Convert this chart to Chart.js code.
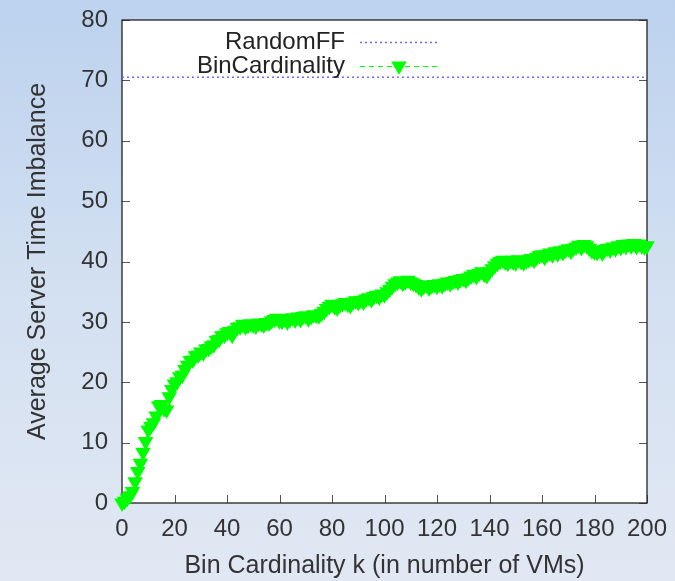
<!DOCTYPE html>
<html>
<head>
<meta charset="utf-8">
<script src="https://cdn.jsdelivr.net/npm/chart.js@4"></script>
<style>
  html, body { margin: 0; padding: 0; }
  body { width: 675px; height: 581px; background: linear-gradient(to bottom, #bcd2ee 0%, #d3e0f1 50%, #e1e8f3 100%); }
  #wrap { width: 675px; height: 581px; position: relative; }
</style>
</head>
<body>
<div id="wrap"><canvas id="c" width="675" height="581"></canvas></div>
<script>
// ---- data ----
const kValues = [];
for (let i = 0; i <= 200; i++) kValues.push(i);
const binCardinality = [
  0.0, 0.3, 0.8, 1.2, 1.9, 3.5, 5.2, 6.6, 8.4, 10.2,
  12.1, 12.7, 13.3, 14.4, 16.1, 16.3, 15.6, 15.4, 17.6, 18.8,
  19.7, 20.1, 20.9, 21.2, 22.1, 22.8, 23.6, 23.7, 24.4, 24.5,
  25.0, 24.9, 25.5, 25.6, 26.0, 26.2, 26.9, 27.1, 27.7, 27.8,
  28.2, 28.4, 27.8, 28.6, 29.1, 29.2, 29.6, 29.2, 29.4, 29.7,
  29.5, 29.3, 29.8, 29.7, 29.5, 29.9, 29.8, 30.2, 30.4, 30.6,
  30.2, 30.1, 30.5, 30.0, 30.4, 30.7, 30.3, 30.8, 30.4, 30.9,
  31.0, 30.5, 30.9, 31.2, 31.1, 31.0, 31.4, 31.7, 32.2, 32.6,
  32.9, 32.5, 32.3, 32.8, 33.0, 33.2, 32.9, 32.7, 33.3, 33.5,
  33.2, 33.6, 33.3, 33.8, 34.0, 33.7, 34.2, 34.4, 34.1, 34.6,
  34.5, 35.0, 35.4, 35.9, 36.3, 36.6, 36.8, 36.4, 36.7, 36.9,
  36.6, 36.4, 36.2, 35.8, 35.5, 35.9, 36.1, 35.6, 36.0, 36.2,
  35.9, 36.3, 36.0, 36.4, 36.6, 36.3, 36.7, 36.9, 36.6, 37.0,
  37.2, 36.9, 37.3, 37.6, 37.9, 37.5, 38.0, 38.3, 37.9, 37.7,
  38.3, 38.8, 39.3, 39.7, 40.0, 40.2, 39.9, 39.7, 40.2, 39.9,
  39.8, 40.3, 40.0, 39.8, 40.1, 40.3, 40.5, 40.2, 40.7, 41.0,
  41.1, 40.7, 41.2, 41.4, 41.1, 41.6, 41.3, 41.8, 41.5, 41.9,
  42.1, 41.7, 42.2, 42.4, 42.7, 42.3, 42.8, 42.6, 42.2, 41.8,
  41.6, 41.5, 41.9, 41.4, 42.0, 42.2, 41.9, 42.4, 42.1, 42.6,
  42.3, 42.8, 42.5, 42.9, 42.6, 43.0, 42.5, 42.9, 42.6, 42.4,
  42.6
];
const randomFFValue = 70.5;
const randomFFRange = [0, 200];
const xTicks = [0, 20, 40, 60, 80, 100, 120, 140, 160, 180, 200];
const yTicks = [0, 10, 20, 30, 40, 50, 60, 70, 80];
const seriesNames = ['RandomFF', 'BinCardinality'];

// ---- styles ----
const FONT = "'Liberation Sans', Arial, sans-serif";
const GREEN = '#00ff00';
const BLUE = '#6b6bff';

const plotBg = {
  id: 'plotBg',
  beforeDraw(chart) {
    const {ctx, chartArea: a} = chart;
    ctx.save();
    ctx.fillStyle = '#ffffff';
    ctx.fillRect(a.left, a.top, a.right - a.left, a.bottom - a.top);
    ctx.restore();
  },
  beforeDatasetsDraw(chart) {
    const {ctx, chartArea: a, scales} = chart;
    ctx.save();
    ctx.strokeStyle = '#555';
    ctx.lineWidth = 1;
    ctx.beginPath();
    yTicks.forEach(v => {
      const y = Math.round(scales.y.getPixelForValue(v)) + 0.5;
      ctx.moveTo(a.left, y); ctx.lineTo(a.left + 8, y);
      ctx.moveTo(a.right, y); ctx.lineTo(a.right - 8, y);
    });
    xTicks.forEach(v => {
      const x = Math.round(scales.x.getPixelForValue(v)) + 0.5;
      ctx.moveTo(x, a.bottom); ctx.lineTo(x, a.bottom - 8);
    });
    ctx.stroke();
    ctx.strokeStyle = '#222';
    ctx.lineWidth = 1.3;
    ctx.strokeRect(a.left, a.top, a.right - a.left, a.bottom - a.top);
    ctx.restore();
  },
  afterDraw(chart) {
    const {ctx} = chart;
    const ds = chart.data.datasets;
    ctx.save();
    ctx.font = '24px ' + FONT;
    ctx.textAlign = 'right';
    ctx.textBaseline = 'middle';
    const rows = [42, 66];
    const tx = 345, s0 = 360, s1 = 438;
    ds.forEach((d, i) => {
      const y = rows[i];
      ctx.fillStyle = '#222';
      ctx.fillText(d.label, tx, y);
      ctx.strokeStyle = d.borderColor;
      ctx.lineWidth = d.borderWidth;
      ctx.setLineDash(d.borderDash || []);
      ctx.beginPath();
      ctx.moveTo(s0, y + 0.5); ctx.lineTo(s1, y + 0.5);
      ctx.stroke();
      ctx.setLineDash([]);
      if (d.pointRadius > 0) {
        const r = d.pointRadius;
        const cx = (s0 + s1) / 2;
        ctx.fillStyle = d.pointBackgroundColor;
        ctx.beginPath();
        ctx.moveTo(cx - r * 0.866, y - r * 0.5);
        ctx.lineTo(cx + r * 0.866, y - r * 0.5);
        ctx.lineTo(cx, y + r);
        ctx.closePath();
        ctx.fill();
      }
    });
    ctx.restore();
  }
};

new Chart(document.getElementById('c'), {
  type: 'line',
  data: {
    datasets: [
      {
        label: seriesNames[0],
        data: randomFFRange.map(k => ({x: k, y: randomFFValue})),
        borderColor: BLUE,
        borderWidth: 1.5,
        borderDash: [2, 3],
        pointRadius: 0,
        fill: false
      },
      {
        label: seriesNames[1],
        data: kValues.map((k, i) => ({x: k, y: binCardinality[i]})),
        borderColor: GREEN,
        borderWidth: 1,
        borderDash: [5, 4],
        pointStyle: 'triangle',
        rotation: 180,
        pointRadius: 9,
        pointBackgroundColor: GREEN,
        pointBorderColor: GREEN,
        pointBorderWidth: 0,
        fill: false,
        clip: false
      }
    ]
  },
  options: {
    responsive: false,
    animation: false,
    devicePixelRatio: 1,
    layout: { padding: { top: 20, right: 28, left: 0, bottom: 0 } },
    plugins: { legend: { display: false }, tooltip: { enabled: false } },
    scales: {
      x: {
        type: 'linear',
        min: 0, max: 200,
        afterFit(s) { s.height = 78; s.paddingLeft = 0; s.paddingRight = 0; },
        afterBuildTicks(s) { s.ticks = xTicks.map(v => ({value: v})); },
        grid: { display: false, drawTicks: false },
        border: { display: false },
        ticks: { color: '#333', font: { family: FONT, size: 24 }, padding: 12, maxRotation: 0 },
        title: { display: true, text: 'Bin Cardinality k (in number of VMs)', color: '#333',
                 font: { family: FONT, size: 25 }, padding: { top: 0, bottom: 0 } }
      },
      y: {
        min: 0, max: 80,
        afterFit(s) { s.width = 122; s.paddingTop = 0; s.paddingBottom = 0; },
        afterBuildTicks(s) { s.ticks = yTicks.map(v => ({value: v})); },
        grid: { display: false, drawTicks: false },
        border: { display: false },
        ticks: { color: '#333', font: { family: FONT, size: 24 }, padding: 14 },
        title: { display: true, text: 'Average Server Time Imbalance', color: '#333',
                 font: { family: FONT, size: 25 }, padding: { top: 23, bottom: 0 } }
      }
    }
  },
  plugins: [plotBg]
});
</script>
</body>
</html>
